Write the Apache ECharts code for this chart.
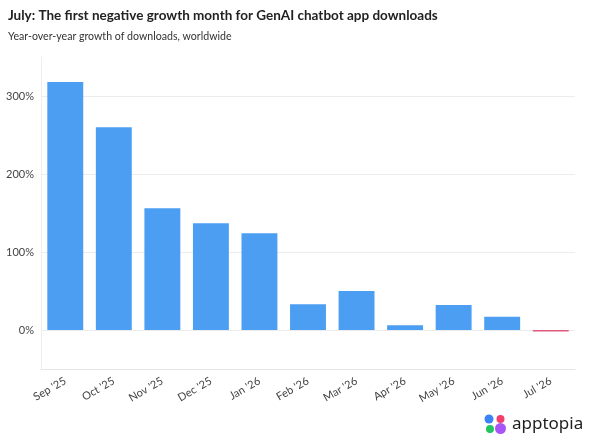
<!DOCTYPE html>
<html>
<head>
<meta charset="utf-8">
<script src="https://cdn.jsdelivr.net/npm/echarts@6/dist/echarts.min.js"></script>
<style>
html,body{margin:0;padding:0;background:#fff;}
#chart{width:590px;height:446px;}
</style>
</head>
<body>
<div id="chart"></div>
<script>
var categories = ["Sep '25","Oct '25","Nov '25","Dec '25","Jan '26","Feb '26","Mar '26","Apr '26","May '26","Jun '26","Jul '26"];
var growth = [318, 260, 156, 137, 124, 33, 50, 6, 32, 17, -2];
var gridValues = [0, 100, 200, 300];

var chart = echarts.init(document.getElementById('chart'));
var font = 'Lato, "Noto Sans", sans-serif';

chart.setOption({
  animation: false,
  backgroundColor: '#fff',
  title: {
    left: 3, top: 4,
    text: 'July: The first negative growth month for GenAI chatbot app downloads',
    subtext: 'Year-over-year growth of downloads, worldwide',
    itemGap: 8,
    textStyle: {fontFamily: font, fontSize: 13.5, fontWeight: 'bold', color: '#222'},
    subtextStyle: {fontFamily: font, fontSize: 10.6, color: '#333'}
  },
  grid: {left: 41, right: 15, top: 57, bottom: 77, containLabel: false},
  xAxis: {
    type: 'category',
    data: categories,
    axisLine: {onZero: false, lineStyle: {color: '#e6e6e6'}},
    axisTick: {alignWithLabel: true, length: 6, lineStyle: {color: '#e0e0e0'}},
    axisLabel: {rotate: 30, margin: 11, fontFamily: font, fontSize: 11, color: '#444'}
  },
  yAxis: {
    type: 'value',
    min: -50, max: 350, interval: 50,
    axisLine: {show: true, lineStyle: {color: '#eeeeee'}},
    axisTick: {show: false},
    splitLine: {show: false},
    axisLabel: {
      margin: 7, fontFamily: font, fontSize: 11, color: '#444',
      formatter: function (v) { return (v % 100 === 0 && v >= 0) ? v + '%' : ''; }
    }
  },
  series: [
    {
      type: 'line', data: [], z: 0, silent: true,
      markLine: {
        z: 0, silent: true, symbol: 'none', label: {show: false},
        lineStyle: {color: '#ececec', type: 'solid', width: 1},
        data: gridValues.map(function (v) { return {yAxis: v}; })
      }
    },
    {
      type: 'bar', z: 3,
      barCategoryGap: '26%',
      data: growth.map(function (v) {
        return v < 0 ? {value: v, itemStyle: {color: '#e05a7d'}} : {value: v};
      }),
      itemStyle: {color: '#4c9ef3'}
    }
  ],
  graphic: [
    {type: 'circle', shape: {cx: 489, cy: 419, r: 4.5}, style: {fill: '#3b82f6'}},
    {type: 'circle', shape: {cx: 500.5, cy: 419, r: 4}, style: {fill: '#f43f6e'}},
    {type: 'circle', shape: {cx: 490, cy: 429, r: 4}, style: {fill: '#22c55e'}},
    {type: 'circle', shape: {cx: 500.5, cy: 428.5, r: 5.5}, style: {fill: '#a855f7'}},
    {type: 'text', left: 512, top: 416, style: {text: 'apptopia', fontFamily: '"Noto Sans", Inter, sans-serif', fontSize: 17, fill: '#1e1e1e'}}
  ]
});
</script>
</body>
</html>
